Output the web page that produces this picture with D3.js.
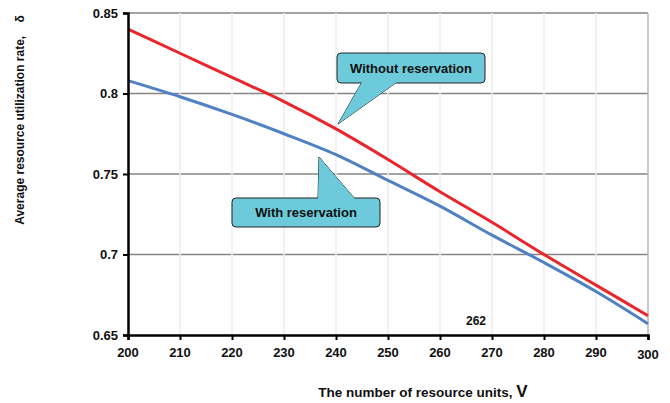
<!DOCTYPE html>
<html>
<head>
<meta charset="utf-8">
<script src="https://cdn.jsdelivr.net/npm/d3@7"></script>
<style>
    body { margin: 0; background: #fff; }
    svg { display: block; }
</style>
</head>
<body>
<svg id="chart" width="670" height="403"></svg>
<script>
// Donnees
const unitValues = [200, 210, 220, 230, 240, 250, 260, 270, 280, 290, 300];
const withoutReservation = [0.840, 0.825, 0.810, 0.795, 0.778, 0.759, 0.739, 0.720, 0.700, 0.681, 0.662];
const withReservation = [0.808, 0.798, 0.787, 0.775, 0.762, 0.746, 0.730, 0.712, 0.695, 0.677, 0.657];
const yTicks = [0.65, 0.7, 0.75, 0.8, 0.85];
const xTicks = [200, 210, 220, 230, 240, 250, 260, 270, 280, 290, 300];

const chartConfig = {
    width: 670,
    height: 403,
    margin: { left: 128, right: 22, top: 13, bottom: 68 },
    font: "Arial, 'Liberation Sans', sans-serif"
};

const svg = d3.select("#chart");
const innerWidth = chartConfig.width - chartConfig.margin.left - chartConfig.margin.right;
const innerHeight = chartConfig.height - chartConfig.margin.top - chartConfig.margin.bottom;
const xScale = d3.scaleLinear().domain([200, 300]).range([chartConfig.margin.left, chartConfig.margin.left + innerWidth]);
const yScale = d3.scaleLinear().domain([0.65, 0.85]).range([chartConfig.margin.top + innerHeight, chartConfig.margin.top]);

// Grille
svg.selectAll(".h-grid")
    .data(yTicks.slice(1))
    .enter()
    .append("line")
    .attr("x1", xScale(200))
    .attr("x2", xScale(300))
    .attr("y1", function(d) { return yScale(d); })
    .attr("y2", function(d) { return yScale(d); })
    .attr("stroke", "#858585")
    .attr("stroke-width", 1.5);

svg.selectAll(".v-grid")
    .data(xTicks.slice(1))
    .enter()
    .append("line")
    .attr("x1", function(d) { return xScale(d); })
    .attr("x2", function(d) { return xScale(d); })
    .attr("y1", yScale(0.85))
    .attr("y2", yScale(0.65))
    .attr("stroke", function(d) { return d === 300 ? "#b8b8b8" : "#ececec"; })
    .attr("stroke-width", 1.5);

// Courbes
const line = d3.line()
    .x(function(d, i) { return xScale(unitValues[i]); })
    .y(function(d) { return yScale(d); })
    .curve(d3.curveMonotoneX);

svg.append("path")
    .datum(withReservation)
    .attr("d", line)
    .attr("fill", "none")
    .attr("stroke", "#4f81c4")
    .attr("stroke-width", 3);

svg.append("path")
    .datum(withoutReservation)
    .attr("d", line)
    .attr("fill", "none")
    .attr("stroke", "#e8262b")
    .attr("stroke-width", 3);

// Axes (traits par d3, libelles poses a part)
function styleAxis(axisGroup) {
    axisGroup.selectAll(".tick text").remove();
    axisGroup.select(".domain").attr("stroke", "#000").attr("stroke-width", 2.5);
    axisGroup.selectAll(".tick line").attr("stroke", "#000").attr("stroke-width", 2);
}

const xAxis = svg.append("g")
    .attr("transform", "translate(0," + yScale(0.65) + ")")
    .call(d3.axisBottom(xScale).tickValues(xTicks).tickSize(5));
styleAxis(xAxis);

const yAxis = svg.append("g")
    .attr("transform", "translate(" + xScale(200) + ",0)")
    .call(d3.axisLeft(yScale).tickValues(yTicks).tickSize(5));
styleAxis(yAxis);

svg.selectAll(".x-label")
    .data(xTicks)
    .enter()
    .append("text")
    .attr("class", "x-label")
    .attr("x", function(d) { return xScale(d); })
    .attr("y", function(d) { return yScale(0.65) + (d === 300 ? 24 : 22); })
    .attr("text-anchor", "middle")
    .attr("font-family", chartConfig.font)
    .attr("font-size", 13)
    .attr("font-weight", "bold")
    .attr("fill", "#111")
    .text(function(d) { return d; });

svg.selectAll(".y-label")
    .data(yTicks)
    .enter()
    .append("text")
    .attr("class", "y-label")
    .attr("x", xScale(200) - 10)
    .attr("y", function(d) { return yScale(d) + 4.5; })
    .attr("text-anchor", "end")
    .attr("font-family", chartConfig.font)
    .attr("font-size", 13)
    .attr("font-weight", "bold")
    .attr("fill", "#111")
    .text(function(d) { return String(d); });

// Titres des axes
const xTitle = svg.append("text")
    .attr("x", 423)
    .attr("y", 397)
    .attr("text-anchor", "middle")
    .attr("font-family", chartConfig.font)
    .attr("font-size", 13.5)
    .attr("font-weight", "bold")
    .attr("fill", "#111");
xTitle.append("tspan").text("The number of resource units,  ");
xTitle.append("tspan").attr("font-size", 17).text("V");

svg.append("text")
    .attr("transform", "translate(24,120) rotate(-90)")
    .attr("text-anchor", "middle")
    .attr("font-family", chartConfig.font)
    .attr("font-size", 12)
    .attr("font-weight", "bold")
    .attr("fill", "#111")
    .style("white-space", "pre")
    .text("Average resource utilization rate,    \u03b4");

svg.append("text")
    .attr("x", xScale(265))
    .attr("y", 325)
    .attr("font-family", chartConfig.font)
    .attr("font-size", 12)
    .attr("font-weight", "bold")
    .attr("fill", "#111")
    .text("262");

// Bulles
function drawCallout(box, pointer, label) {
    svg.append("path")
        .attr("d", "M" + pointer.join("L") + "Z")
        .attr("fill", "#6dcadb")
        .attr("stroke", "#222")
        .attr("stroke-width", 1);
    svg.append("rect")
        .attr("x", box.x)
        .attr("y", box.y)
        .attr("width", box.w)
        .attr("height", box.h)
        .attr("rx", 4)
        .attr("fill", "#6dcadb")
        .attr("stroke", "#222")
        .attr("stroke-width", 1);
    svg.append("path")
        .attr("d", "M" + pointer.join("L"))
        .attr("fill", "#6dcadb")
        .attr("stroke", "none");
    svg.append("text")
        .attr("x", box.x + box.w / 2)
        .attr("y", box.y + box.h / 2 + 4.5)
        .attr("text-anchor", "middle")
        .attr("font-family", chartConfig.font)
        .attr("font-size", 13)
        .attr("font-weight", "bold")
        .attr("fill", "#111")
        .text(label);
}

drawCallout(
    { x: 337, y: 53, w: 148, h: 30 },
    [[362, 82], [338, 124], [397, 82]],
    "Without reservation"
);

drawCallout(
    { x: 232, y: 198, w: 148, h: 29 },
    [[318, 199], [319, 157], [355, 199]],
    "With reservation"
);
</script>
</body>
</html>
